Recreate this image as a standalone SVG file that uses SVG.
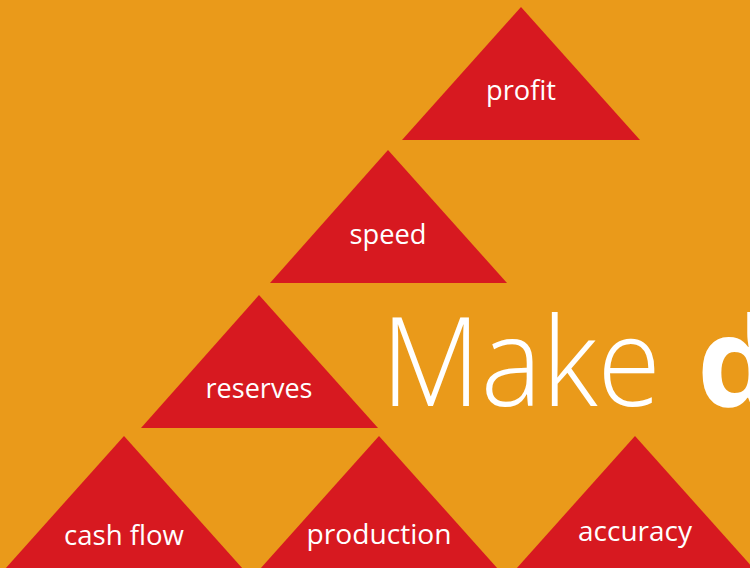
<svg xmlns="http://www.w3.org/2000/svg" width="750" height="568" viewBox="0 0 750 568">
<style>
.tri{fill:#D71920}
.lbl{fill:#FFFFFF;font-family:"Open Sans","Noto Sans","Liberation Sans",sans-serif;font-size:27px;text-anchor:middle}
.big{fill:#FFFFFF;font-family:"Open Sans","Noto Sans","Liberation Sans",sans-serif;font-size:124px}
</style>
<rect x="0" y="0" width="750" height="568" fill="#EA9A1A"/>
<g id="title">
<text class="big" x="381" y="406" font-weight="300" textLength="280" lengthAdjust="spacingAndGlyphs">Make</text>
<text class="big" x="697" y="406" font-weight="700">d</text>
</g>
<g id="profit"><polygon class="tri" points="521,7 640,140 402,140"/><text class="lbl" x="521" y="100" textLength="70" lengthAdjust="spacingAndGlyphs">profit</text></g>
<g id="speed"><polygon class="tri" points="388,150 507,283 270,283"/><text class="lbl" x="388" y="244" textLength="77" lengthAdjust="spacingAndGlyphs">speed</text></g>
<g id="reserves"><polygon class="tri" points="259,295 378,428 141,428"/><text class="lbl" x="259" y="398" textLength="107" lengthAdjust="spacingAndGlyphs">reserves</text></g>
<g id="cashflow"><polygon class="tri" points="124,436 243,569 5,569"/><text class="lbl" x="124" y="545" textLength="120" lengthAdjust="spacingAndGlyphs">cash flow</text></g>
<g id="production"><polygon class="tri" points="379,436 498,569 260,569"/><text class="lbl" x="379" y="544" textLength="145" lengthAdjust="spacingAndGlyphs">production</text></g>
<g id="accuracy"><polygon class="tri" points="635,436 754,569 516,569"/><text class="lbl" x="635" y="541" textLength="114" lengthAdjust="spacingAndGlyphs">accuracy</text></g>
<g id="connectors"/>
</svg>
